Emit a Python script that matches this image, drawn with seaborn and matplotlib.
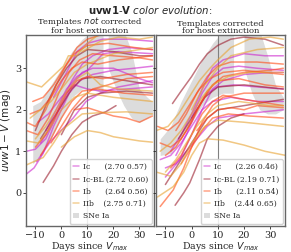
import numpy as np
import pandas as pd
import matplotlib.pyplot as plt
import seaborn as sns
from matplotlib.lines import Line2D
from matplotlib.patches import Patch

# ---- data (days since V max, uvw1-V mag) ----
types = ['Ic', 'Ic-BL', 'Ib', 'IIb']
stats_left = ['(2.70 0.57)', '(2.72 0.60)', '(2.64 0.56)', '(2.75 0.71)']
stats_right = ['(2.26 0.46)', '(2.19 0.71)', '(2.11 0.54)', '(2.44 0.65)']

left_Ic = [
    ([-13.5, -10.5, -7, -3, 0, 3, 7, 12, 20, 28, 35], [0.45, 0.6, 0.95, 1.6, 2.0, 2.4, 2.7, 2.85, 2.95, 3.0, 3.05]),
    ([-13.5, -10, -6, -3, 0, 4, 8, 12, 18, 25, 35], [1.0, 1.05, 1.3, 1.7, 2.2, 2.7, 3.1, 3.3, 3.45, 3.5, 3.45]),
    ([-8, -4, 0, 4, 8, 12, 20, 30, 35], [1.2, 1.6, 2.1, 2.6, 2.9, 3.0, 3.0, 2.75, 2.65]),
    ([-6, -2, 2, 6, 10, 16, 22, 35], [1.5, 2.0, 2.5, 2.8, 2.95, 3.35, 3.4, 3.35]),
    ([-9, -5, 0, 5, 10, 15, 25, 35], [1.7, 1.9, 2.3, 2.6, 2.5, 2.45, 2.5, 2.55]),
    ([-3, 2, 6, 10, 16, 25, 35], [2.3, 2.9, 3.4, 3.6, 3.7, 3.7, 3.65]),
    ([-9.5, -4, 4.5, 9.5, 15, 22, 35], [0.75, 1.25, 1.8, 2.2, 2.4, 2.55, 2.7]),
]
left_IcBL = [
    ([-7, -3, 0, 4, 8, 12, 17, 21], [0.25, 0.65, 1.0, 1.4, 1.7, 1.85, 1.95, 2.1]),
    ([-10, -6, -2, 2, 6, 10, 20, 30, 35], [1.5, 2.1, 2.6, 3.0, 3.3, 3.45, 3.4, 3.3, 3.3]),
    ([-8, -4, 0, 4, 8, 15, 25, 35], [1.3, 1.7, 2.1, 2.5, 2.75, 2.8, 2.7, 2.6]),
    ([0, 5, 10, 15, 25, 35], [1.4, 2.0, 2.3, 2.4, 2.45, 2.4]),
]
left_Ib = [
    ([-13.5, -10, -6, -2, 2, 6, 10, 15], [1.7, 1.6, 2.0, 2.6, 3.1, 3.5, 3.7, 3.8]),
    ([-13.5, -9, -5, -1, 3, 7, 12, 20, 30, 35], [1.5, 1.4, 1.8, 2.4, 2.9, 3.2, 3.35, 3.3, 3.25, 3.2]),
    ([-12, -8, -4, 0, 4, 8, 14, 22, 35], [1.9, 2.0, 2.3, 2.7, 3.0, 3.15, 3.1, 3.2, 3.3]),
    ([-10, -6, -2, 2, 6, 10, 16, 25, 35], [1.1, 1.4, 1.9, 2.4, 2.7, 2.8, 2.75, 2.85, 2.9]),
    ([-4, 0, 4, 8, 12, 18, 25, 35], [1.2, 1.6, 2.0, 2.3, 2.5, 2.6, 2.75, 2.8]),
    ([5, 10, 15, 20, 25, 30, 35], [2.0, 2.05, 1.95, 1.85, 1.8, 1.7, 1.85]),
    ([-11, -7, -3, 1, 5, 10, 18, 28, 35], [2.2, 2.3, 2.6, 3.0, 3.35, 3.55, 3.6, 3.5, 3.45]),
    ([-8, -4, 0, 4, 8, 14, 24, 35], [0.9, 1.3, 1.8, 2.2, 2.45, 2.5, 2.4, 2.35]),
]
left_IIb = [
    ([-13.4, -7.6, 0.8, 2.7, 5.7, 10, 14], [2.67, 2.55, 3.05, 3.3, 3.3, 3.6, 3.8]),
    ([-13.5, -7, -3, 0, 4, 8, 15, 25, 35], [0.67, 0.85, 1.2, 1.5, 1.7, 1.9, 1.93, 1.95, 1.9]),
    ([0, 5, 10, 15, 20, 25, 30, 35], [1.1, 1.35, 1.5, 1.45, 1.35, 1.3, 1.25, 1.22]),
    ([-12, -8, -4, 0, 5, 10, 20, 30, 35], [1.8, 2.0, 2.2, 2.5, 2.9, 3.1, 3.35, 3.45, 3.5]),
    ([-10, -6, -2, 2, 6, 10, 15, 22, 35], [1.3, 1.6, 2.0, 2.45, 2.75, 2.9, 2.6, 2.5, 2.45]),
    ([-13.5, -9, -5, 0, 5, 10, 20, 35], [1.25, 1.2, 1.5, 2.0, 2.3, 2.4, 2.3, 2.2]),
    ([8, 15, 22, 30, 35], [3.4, 3.65, 3.75, 3.7, 3.75]),
]

right_Ic = [
    ([-10, -4.5, 0, 4, 8, 12, 20, 30, 35], [0.38, 0.8, 1.4, 2.0, 2.5, 2.7, 2.85, 2.9, 2.9]),
    ([-8, -4, 0, 4, 8, 12, 20, 28, 35], [1.0, 1.4, 1.9, 2.5, 3.0, 3.2, 3.35, 3.3, 3.3]),
    ([-6, -2, 2, 6, 10, 16, 25, 35], [0.9, 1.4, 2.0, 2.4, 2.55, 2.6, 2.55, 2.5]),
    ([-12, -8, -4, 0, 4, 8, 15, 25, 35], [0.8, 0.9, 1.2, 1.6, 2.0, 2.2, 2.3, 2.2, 2.2]),
    ([0, 4, 8, 12, 18, 25, 35], [1.8, 2.4, 2.8, 3.0, 3.05, 3.0, 2.95]),
    ([-10, -6, -2, 2, 6, 10, 20, 35], [0.6, 0.7, 1.0, 1.3, 1.6, 1.8, 1.9, 2.0]),
]
right_IcBL = [
    ([-7.3, -4, 0, 3, 6, 10, 15, 20, 28, 35], [2.15, 2.45, 2.8, 3.1, 3.35, 3.55, 3.7, 3.75, 3.7, 3.55]),
    ([-6.3, -3, -0.7, 3, 6, 10, 15, 20], [-0.3, 0.0, 0.24, 0.8, 1.3, 1.6, 1.8, 1.9]),
    ([-10, -6, -2, 2, 6, 10, 20, 30, 35], [0.2, 0.6, 1.0, 1.4, 1.8, 2.0, 2.1, 2.2, 2.25]),
    ([-5, 0, 5, 10, 20, 35], [1.3, 1.8, 2.3, 2.55, 2.6, 2.5]),
]
right_Ib = [
    ([-12, -7, -3, 0, 4, 8, 12, 20, 30, 35], [-0.33, 0.07, 0.6, 1.1, 1.7, 2.1, 2.3, 2.4, 2.4, 2.4]),
    ([-12, -8, -4, 0, 4, 8, 12, 20, 30, 35], [1.2, 1.1, 1.3, 1.7, 2.2, 2.6, 2.8, 2.9, 2.95, 3.0]),
    ([-10, -6, -2, 2, 6, 10, 18, 28, 35], [0.9, 1.1, 1.5, 2.0, 2.45, 2.7, 2.75, 2.6, 2.55]),
    ([-8, -4, 0, 4, 8, 12, 20, 35], [0.6, 0.9, 1.4, 1.9, 2.2, 2.35, 2.25, 2.1]),
    ([-6, -2, 2, 6, 10, 15, 25, 35], [1.5, 1.9, 2.4, 2.8, 3.05, 3.15, 3.15, 3.1]),
    ([2, 6, 10, 15, 20, 25, 35], [1.5, 1.8, 2.0, 2.05, 2.0, 2.1, 2.05]),
    ([-13, -9, -5, -1, 3, 7, 12, 20, 35], [1.6, 1.5, 1.7, 2.1, 2.5, 2.75, 2.9, 2.95, 2.85]),
    ([-4, 0, 4, 8, 14, 22, 35], [0.7, 1.1, 1.5, 1.8, 1.9, 1.85, 1.8]),
]
right_IIb = [
    ([-13, -7, -3, 0, 3, 6, 12, 20, 28, 36], [-0.1, 0.15, 0.5, 0.9, 1.2, 1.3, 1.27, 1.15, 1.0, 0.9]),
    ([-13.5, -9, -5, -1, 3, 7, 10, 15, 22, 30, 35], [1.5, 1.6, 1.9, 2.3, 2.7, 3.0, 3.2, 3.5, 3.7, 3.75, 3.7]),
    ([-10, -6, -2, 2, 6, 10, 18, 30, 35], [0.5, 0.8, 1.2, 1.6, 1.9, 2.1, 2.2, 2.1, 2.1]),
    ([-12, -8, -4, 0, 4, 8, 14, 22, 35], [1.0, 1.2, 1.5, 1.9, 2.3, 2.6, 2.8, 2.9, 2.9]),
    ([0, 5, 10, 15, 25, 35], [2.0, 2.6, 3.0, 3.3, 3.45, 3.5]),
    ([-13.5, -8, -4, 0, 5, 10, 20, 35], [0.5, 0.4, 0.7, 1.2, 1.6, 1.75, 1.7, 1.6]),
]

# SNe Ia band (two overlapping pieces)
ia_left_days = [-11, -8, -4, 0, 4, 8, 12, 16]
ia_left_lo = [0.7, 0.9, 1.3, 1.8, 2.3, 2.5, 2.5, 2.4]
ia_left_hi = [2.1, 2.2, 2.6, 3.0, 3.4, 3.7, 3.9, 3.9]
ia_left_days2 = [18, 21, 24, 27, 30, 33, 35]
ia_left_lo2 = [3.0, 2.5, 2.1, 1.8, 1.7, 1.8, 1.9]
ia_left_hi2 = [3.9, 3.9, 3.9, 3.4, 2.5, 2.3, 2.2]

ia_right_days = [-12, -8, -4, 0, 4, 8, 12, 16]
ia_right_lo = [0.9, 0.95, 1.3, 1.7, 2.1, 2.3, 2.4, 2.4]
ia_right_hi = [1.3, 1.6, 2.2, 2.7, 3.2, 3.6, 3.9, 3.9]
ia_right_days2 = [20, 23, 26, 29, 32, 35]
ia_right_lo2 = [3.0, 2.4, 2.0, 1.9, 1.9, 2.0]
ia_right_hi2 = [3.9, 3.9, 3.9, 3.3, 2.6, 2.3]

palette = {'Ic': '#cc22cc', 'Ic-BL': '#9b1c2c', 'Ib': '#ff4a14', 'IIb': '#e8a230'}


def to_frame(groups):
    rows = []
    for t, curves in zip(types, groups):
        for i, (d, m) in enumerate(curves):
            for x, y in zip(d, m):
                rows.append((t, f'{t}_{i}', x, y))
    return pd.DataFrame(rows, columns=['type', 'sn', 'day', 'mag'])


df_left = to_frame([left_Ic, left_IcBL, left_Ib, left_IIb])
df_right = to_frame([right_Ic, right_IcBL, right_Ib, right_IIb])

sns.set_style('ticks')
plt.rcParams['font.family'] = ['DejaVu Serif']
plt.rcParams['mathtext.fontset'] = 'dejavusans'

fig = plt.figure(figsize=(2.91, 2.52), dpi=100)
ax1 = fig.add_axes([0.0893, 0.103, 0.44, 0.758])
ax2 = fig.add_axes([0.536, 0.103, 0.443, 0.758], sharey=ax1)

panels = [
    (ax1, df_left, stats_left, 'Templates $\\it{not}$ corrected\nfor host extinction',
     [(ia_left_days, ia_left_lo, ia_left_hi), (ia_left_days2, ia_left_lo2, ia_left_hi2)]),
    (ax2, df_right, stats_right, 'Templates corrected\nfor host extinction',
     [(ia_right_days, ia_right_lo, ia_right_hi), (ia_right_days2, ia_right_lo2, ia_right_hi2)]),
]

for ax, df, stats, title, bands in panels:
    for d, lo, hi in bands:
        ax.fill_between(d, lo, hi, color='#dcdcdc', lw=0, zorder=0)
    sns.lineplot(data=df, x='day', y='mag', hue='type', units='sn', estimator=None,
                 palette=palette, alpha=0.6, lw=1.1, legend=False, ax=ax, sort=False)
    ax.axvline(10, color='gray', lw=0.8, zorder=1)
    ax.set_xlim(-13.6, 35.6)
    ax.set_ylim(-0.8, 3.8)
    ax.set_xticks([-10, 0, 10, 20, 30])
    ax.set_yticks([0, 1, 2, 3])
    ax.tick_params(labelsize=7, length=2.5, width=0.6, pad=1)
    for s in ax.spines.values():
        s.set_color('#666666')
        s.set_linewidth(1.0)
    ax.set_xlabel('Days since $V_{max}$', fontsize=6.8, labelpad=0)
    ax.set_ylabel('')
    ax.set_title(title, fontsize=6, pad=1, linespacing=0.9)
    handles = [Line2D([], [], color=palette[t], alpha=0.5, lw=1.1) for t in types]
    handles.append(Patch(facecolor='#dcdcdc', edgecolor='none'))
    labels = [f'{n} {s}' for n, s in zip(['Ic     ', 'Ic-BL', 'Ib     ', 'IIb   '], stats)]
    labels.append('SNe Ia')
    ax.legend(handles, labels, loc='lower right', fontsize=5.5, handlelength=0.7,
              handletextpad=0.5, labelspacing=0.55, borderpad=0.5, borderaxespad=0.3,
              framealpha=0.85, edgecolor='#cccccc')

ax2.tick_params(labelleft=False)
ax1.set_ylabel('$uvw1 - V$ (mag)', fontsize=7.5, family='DejaVu Sans', labelpad=1)

fig.text(0.515, 0.962, r'$\bf{uvw1}$-$\bf{V}$ $\it{color\ evolution}$:', ha='center',
         va='center', fontsize=7.3, family='DejaVu Sans')

fig.savefig('out.png', dpi=100)
